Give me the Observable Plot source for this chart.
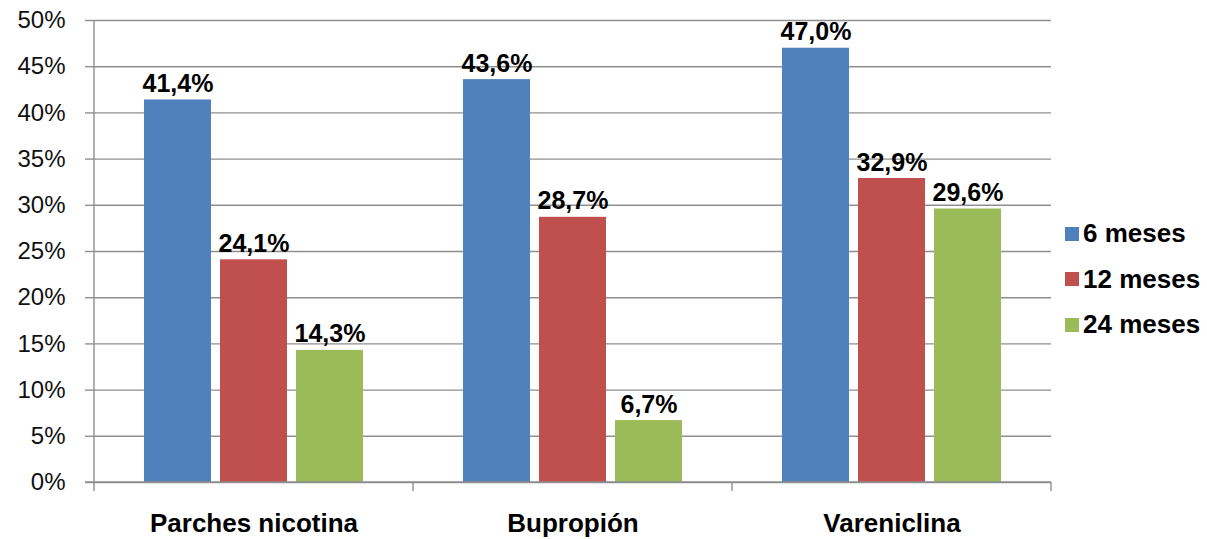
<!DOCTYPE html>
<html>
<head>
<meta charset="utf-8">
<script src="https://cdn.jsdelivr.net/npm/d3@7"></script>
<script src="https://cdn.jsdelivr.net/npm/@observablehq/plot@0.6"></script>
<style>
  body { margin: 0; background: #fff; }
  #wrap { position: relative; width: 1207px; height: 539px; font-family: "Liberation Sans", Arial, sans-serif; }
  #legend { position: absolute; left: 1065px; top: 211px; }
  .row { display: flex; align-items: center; height: 45.5px; font-weight: bold; font-size: 26px; color: #000; }
  .sw { width: 14px; height: 14px; margin-right: 4px; }
</style>
</head>
<body>
<div id="wrap"></div>
<script>
const categories = ["Parches nicotina", "Bupropión", "Vareniclina"];
const series = ["6 meses", "12 meses", "24 meses"];
const values6 = [41.4, 43.6, 47.0];
const values12 = [24.1, 28.7, 32.9];
const values24 = [14.3, 6.7, 29.6];
const colors = ["#4f81bd", "#c0504d", "#9bbb59"];
const yTicks = [0, 5, 10, 15, 20, 25, 30, 35, 40, 45, 50];

const seriesValues = [values6, values12, values24];
const data = [];
categories.forEach((c, i) => {
  series.forEach((s, j) => data.push({cat: c, series: s, value: seriesValues[j][i]}));
});

const fmt = v => v.toFixed(1).replace(".", ",") + "%";
const grid = "#8f8f8f";

const chart = Plot.plot({
  width: 1058,
  height: 539,
  marginLeft: 93,
  marginRight: 6,
  marginTop: 20,
  marginBottom: 57,
  style: {fontFamily: "'Liberation Sans', Arial, sans-serif", background: "white", color: "#000"},
  fx: {domain: categories, padding: 0, label: null},
  x: {domain: series, paddingInner: 0.117, paddingOuter: 0.634, axis: null},
  y: {domain: [0, 50], label: null},
  color: {domain: series, range: colors},
  marks: [
    Plot.gridY(yTicks, {stroke: grid, strokeOpacity: 1, strokeWidth: 1.4}),
    Plot.axisY(yTicks, {tickFormat: d => d + "%", tickSize: 9, tickPadding: 20, stroke: grid, strokeOpacity: 1, strokeWidth: 1.4, fontSize: 24, fill: "#111", label: null}),
    Plot.axisFx({anchor: "bottom", tickSize: 0, tickPadding: 31, fontSize: 26, fontWeight: "bold", fill: "#000", label: null}),
    Plot.barY(data, {fx: "cat", x: "series", y: "value", fill: "series"}),
    Plot.text(data, {fx: "cat", x: "series", y: "value", text: d => fmt(d.value), lineAnchor: "bottom", dy: -8, fontSize: 25, fontWeight: "bold", fill: "#000"})
  ]
});

// axis line and category separator ticks, positioned from the chart's own scales
const fx = chart.scale("fx");
const ys = chart.scale("y");
const y0 = ys.apply(0), y50 = ys.apply(50);
const edges = categories.map(c => fx.apply(c));
edges.push(fx.apply(categories[categories.length - 1]) + fx.bandwidth);
const svg = d3.select(chart.tagName.toLowerCase() === "svg" ? chart : chart.querySelector("svg"));
const g = svg.append("g").attr("stroke", grid).attr("stroke-width", 1.4);
g.append("line").attr("x1", edges[0]).attr("x2", edges[0]).attr("y1", y50).attr("y2", y0 + 9);
g.append("line").attr("x1", edges[0] - 9).attr("x2", edges[edges.length - 1]).attr("y1", y0).attr("y2", y0);
edges.slice(1).forEach(x => g.append("line").attr("x1", x).attr("x2", x).attr("y1", y0).attr("y2", y0 + 9));

const wrap = document.getElementById("wrap");
wrap.appendChild(chart);

const legend = document.createElement("div");
legend.id = "legend";
series.forEach((s, i) => {
  const row = document.createElement("div");
  row.className = "row";
  const sw = document.createElement("div");
  sw.className = "sw";
  sw.style.background = colors[i];
  row.appendChild(sw);
  row.appendChild(document.createTextNode(s));
  legend.appendChild(row);
});
wrap.appendChild(legend);
</script>
</body>
</html>
